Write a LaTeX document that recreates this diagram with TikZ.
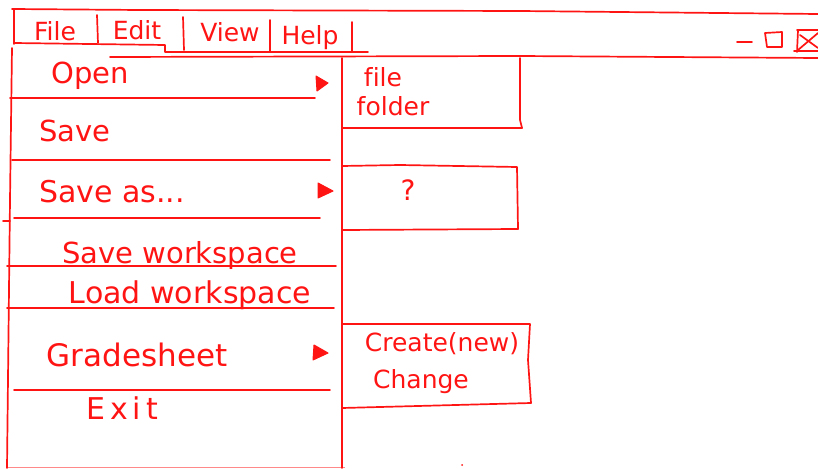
\documentclass[tikz,border=0pt]{standalone}
\usepackage{fontspec}
\setmainfont[Ligatures=NoCommon]{DejaVu Sans}
\definecolor{ink}{RGB}{255,20,20}
\begin{document}
\begin{tikzpicture}[x=1pt,y=-1pt,
  pen/.style={draw=ink,line width=1.7pt,line cap=round,line join=round},
  lbl/.style={text=ink,inner sep=0pt,font=\fontsize{#1}{#1}\selectfont},
  lbl/.default=28,
  tri/.style={fill=ink,draw=ink,line width=1pt,line join=round}]
\useasboundingbox (0,0) rectangle (818,468);
% ---- window title/menu bar
\draw[pen] (12,9) -- (140,10) -- (520,11) -- (818,14);
\draw[pen] (14,9) -- (14,44);
\draw[pen] (14,43) -- (165,45) -- (165,52) -- (368,52);
\draw[pen] (110,57) -- (520,56) -- (818,58);
\draw[pen] (97,15) -- (98,43);
\draw[pen] (183,17) -- (184,50);
\draw[pen] (270,20) -- (270,52);
\draw[pen] (352,22) -- (352,52);
\node[lbl=25] (file) at (55,31) {File};
\node[lbl=25] (edit) at (137,30) {Edit};
\node[lbl=25] (view) at (230,32) {View};
\node[lbl=25] (help) at (310,38) {Help};
% window controls
\draw[pen] (737,42) -- (752,42);
\draw[pen] (765,33) -- (782,32) -- (782,47) -- (767,47) -- cycle;
\draw[pen] (797,30) -- (818,30);
\draw[pen] (798,30) -- (797,52);
\draw[pen] (794,51) -- (818,51);
\draw[pen] (798,50) -- (818,33);
\draw[pen] (800,35) -- (818,48);
% ---- drop-down menu
\draw[pen] (12,48) -- (10,200) -- (7,468);
\draw[pen] (342,58) -- (342,468);
\draw[pen] (3,221) -- (10,221);
\draw[pen] (10,98) -- (315,98);
\draw[pen] (12,160) -- (330,160);
\draw[pen] (14,218) -- (320,218);
\draw[pen] (7,266) -- (336,266);
\draw[pen] (7,308) -- (334,308);
\draw[pen] (14,390) -- (330,390);
\draw[draw=ink,line width=0.8pt,opacity=0.5] (7,467) -- (345,467);
\node[lbl=29] (open) at (90,76) {Open};
\node[lbl=29] (save) at (75,131) {Save};
\node[lbl=30] (saveas) at (112,192) {Save as...};
\node[lbl=29] (savews) at (180,255) {Save workspace};
\node[lbl=30] (loadws) at (190,295) {Load workspace};
\node[lbl=31] (grade) at (137,355) {Gradesheet};
\node[lbl=30] (exit) at (122,408) {E\,x\,i\,t};
% arrows
\draw[tri] (316,76) -- (328,83) -- (317,91) -- cycle;
\draw[tri] (318,183) -- (333,191) -- (318,198) -- cycle;
\draw[tri] (314,345) -- (328,353) -- (313,360) -- cycle;
% ---- submenus
\draw[pen] (520,58) -- (520,120) -- (522,128);
\draw[pen] (342,128) -- (522,128);
\node[lbl=25] (sfile) at (383,77) {f\kern0pt ile};
\node[lbl=25] (sfolder) at (393,106) {folder};
\draw[pen] (342,166) -- (400,165) -- (517,167) -- (518,229) -- (342,230);
\node[lbl=28] (q) at (408,190) {?};
\draw[pen] (342,324) -- (530,324) -- (528,360) -- (531,403) -- (342,408);
\node[lbl=25] (create) at (442,344) {Create(new)};
\node[lbl=25] (change) at (421,382) {Change};
\fill[ink] (462,465) circle (1pt);
\end{tikzpicture}
\end{document}
